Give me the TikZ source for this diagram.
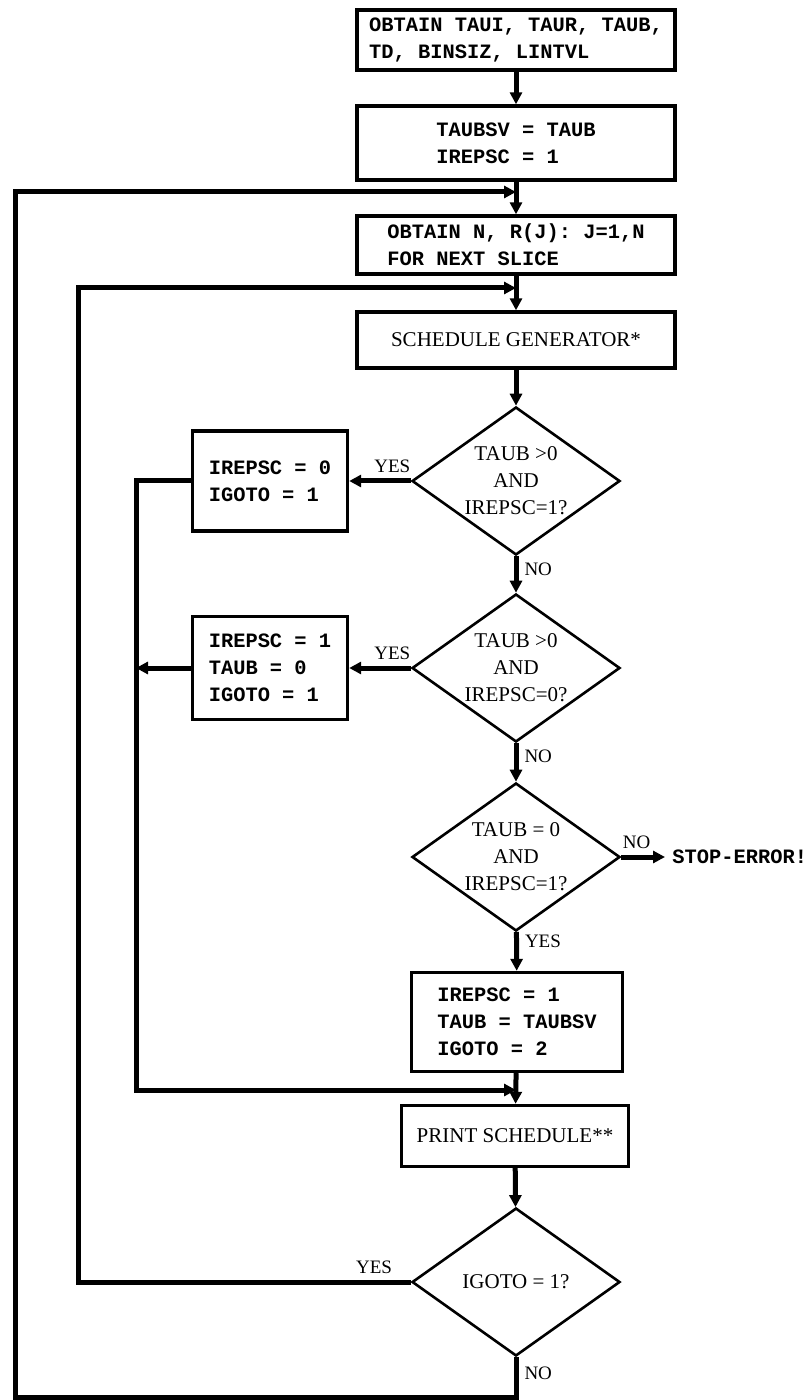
\documentclass[tikz,border=0pt]{standalone}
\usepackage{fontspec}
\setmainfont{Liberation Serif}
\newfontfamily\typefont{Liberation Mono}
\usetikzlibrary{shapes.geometric,arrows.meta}

\begin{document}
\begin{tikzpicture}
[x=0.5pt,y=-0.5pt,
  boxDecorate/.style={draw,line width=1.7pt,inner sep=0pt,align=left,
    font=\typefont\bfseries\fontsize{10.2}{13.5}\selectfont},
  procDecorate/.style={draw,line width=1.7pt,inner sep=0pt,
    font=\fontsize{10.5}{13.5}\selectfont},
  nodeDecorate/.style={shape=diamond,draw,line width=1.3pt,inner sep=0pt,
    minimum width=104pt,minimum height=74pt},
  condDecorate/.style={align=center,inner sep=0pt,
    font=\fontsize{10.5}{13.5}\selectfont},
  labelDecorate/.style={font=\fontsize{9.5}{11}\selectfont,inner sep=3pt},
  lineDecorate/.style={line width=2.5pt},
  arrowDecorate/.style={lineDecorate,-{Triangle[length=6pt,width=6pt]}}]
\useasboundingbox (0,0) rectangle (807,1400);
%% boxes
\node[boxDecorate,minimum width=159pt,minimum height=30pt] (obtainParams) at (516,40)
  {OBTAIN TAUI, TAUR, TAUB,\\TD, BINSIZ, LINTVL};
\node[boxDecorate,minimum width=159pt,minimum height=37pt] (saveTaub) at (516,143)
  {TAUBSV = TAUB\\IREPSC = 1};
\node[boxDecorate,minimum width=159pt,minimum height=29pt] (obtainSlice) at (516,245)
  {OBTAIN N, R(J): J=1,N\\FOR NEXT SLICE};
\node[procDecorate,minimum width=159pt,minimum height=28pt] (schedGen) at (516,340)
  {SCHEDULE GENERATOR*};
\node[boxDecorate,minimum width=77.5pt,minimum height=50pt] (setA) at (270,481)
  {IREPSC = 0\\IGOTO = 1};
\node[boxDecorate,minimum width=77.5pt,minimum height=51.5pt] (setB) at (270,668)
  {IREPSC = 1\\TAUB = 0\\IGOTO = 1};
\node[boxDecorate,minimum width=105.5pt,minimum height=49.5pt] (setC) at (517,1022)
  {IREPSC = 1\\TAUB = TAUBSV\\IGOTO = 2};
\node[procDecorate,minimum width=113.5pt,minimum height=30.5pt] (printSched) at (515,1136)
  {PRINT SCHEDULE**};
\node[anchor=west,inner sep=3.5pt,font=\typefont\bfseries\fontsize{10.2}{12}\selectfont]
  (stopErr) at (665,857) {STOP-ERROR!};
%% decisions
\node[nodeDecorate] (testA) at (516,481) {};
\node[condDecorate] (testAtext) at (testA) {TAUB >0\\AND\\IREPSC=1?};
\node[nodeDecorate] (testB) at (516,668) {};
\node[condDecorate] (testBtext) at (testB) {TAUB >0\\AND\\IREPSC=0?};
\node[nodeDecorate] (testC) at (516,857) {};
\node[condDecorate] (testCtext) at (testC) {TAUB = 0\\AND\\IREPSC=1?};
\node[nodeDecorate] (testGoto) at (516,1282) {};
\node[condDecorate] (testGotoText) at (testGoto) {IGOTO = 1?};
%% joins and corners
\coordinate (outerJoin) at (516,192);
\coordinate (innerJoin) at (516,288);
\coordinate (mergeJoin) at (516,1090);
\coordinate (outerCorner) at (15,1397);
\coordinate (innerCorner) at (78,288);
\coordinate (mergeCorner) at (136,1090);
%% edges or lines
\draw[arrowDecorate] (obtainParams) -- (saveTaub);
\draw[arrowDecorate] (saveTaub) -- (obtainSlice);
\draw[arrowDecorate] (obtainSlice) -- (schedGen);
\draw[arrowDecorate] (schedGen) -- (testA);
\draw[arrowDecorate] (testA) -- node[labelDecorate,right,pos=0.35] {NO} (testB);
\draw[arrowDecorate] (testB) -- node[labelDecorate,right,pos=0.35] {NO} (testC);
\draw[arrowDecorate] (testC) -- node[labelDecorate,right,pos=0.25] {YES} (setC);
\draw[arrowDecorate] (testC) -- node[labelDecorate,above,pos=0.35] {NO} (stopErr);
\draw[arrowDecorate] (testA) -- node[labelDecorate,above,pos=0.3] {YES} (setA);
\draw[arrowDecorate] (testB) -- node[labelDecorate,above,pos=0.3] {YES} (setB);
\draw[arrowDecorate] (setC) -- (printSched);
\draw[arrowDecorate] (printSched) -- (testGoto);
\draw[arrowDecorate] (setA.west) -| (mergeCorner) -- (mergeJoin);
\draw[arrowDecorate] (setB.west) -- (setB.west -| mergeCorner);
\draw[arrowDecorate] (testGoto.west) -- node[labelDecorate,above,pos=0.11] {YES}
  (testGoto.west -| innerCorner) -- (innerCorner) -- (innerJoin);
\draw[arrowDecorate] (testGoto.south) -- node[labelDecorate,right,pos=0.4] {NO}
  (testGoto.south |- outerCorner) -- (outerCorner) |- (outerJoin);
\end{tikzpicture}
\end{document}
